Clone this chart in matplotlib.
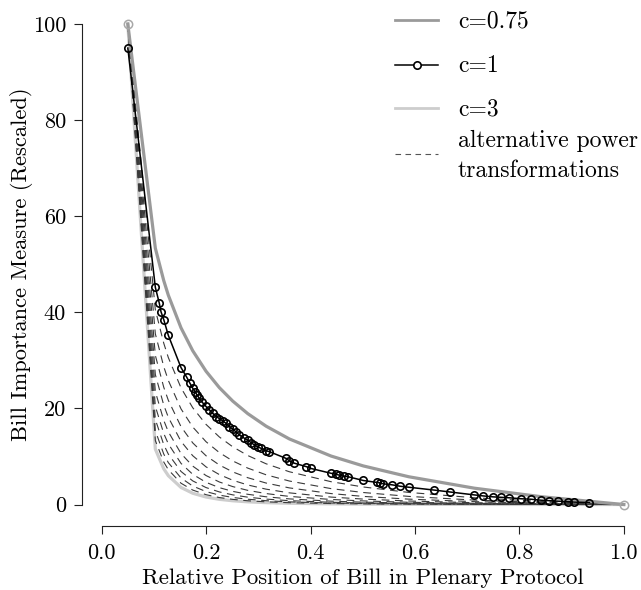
import matplotlib
matplotlib.use("Agg")
import matplotlib.pyplot as plt

plt.rcParams['font.family'] = ['cmr10', 'DejaVu Serif']
plt.rcParams['mathtext.fontset'] = 'cm'
plt.rcParams['axes.formatter.use_mathtext'] = True

# ---------------- data ----------------
# positions of bills (relative position) and the c=1 measure (circles)
bill_pos = [0.05, 0.1027, 0.1103, 0.1136, 0.1188, 0.1276, 0.1519, 0.1628, 0.1692, 0.1743,
            0.1787, 0.1826, 0.187, 0.1916, 0.1998, 0.2061, 0.2126, 0.219, 0.2253, 0.2318,
            0.2381, 0.2444, 0.251, 0.2573, 0.2636, 0.2732, 0.2797, 0.286, 0.2923, 0.2989,
            0.3052, 0.3148, 0.3211, 0.3531, 0.3594, 0.369, 0.3914, 0.401, 0.4393, 0.4489,
            0.4552, 0.4636, 0.4713, 0.5011, 0.5268, 0.5337, 0.5395, 0.5561, 0.572, 0.5881,
            0.6372, 0.6678, 0.7138, 0.7299, 0.749, 0.765, 0.7808, 0.8033, 0.8224, 0.8416,
            0.8575, 0.8736, 0.8927, 0.9054, 0.9341]
c1_vals = [95, 45.2, 41.9, 40.1, 38.5, 35.2, 28.5, 26.5, 25.2, 24.2,
           23.5, 22.8, 22.1, 21.4, 20.4, 19.7, 19.0, 18.3, 17.9, 17.4,
           16.9, 16.2, 15.7, 15.1, 14.5, 13.8, 13.4, 12.9, 12.4, 12.0,
           11.7, 11.2, 11.0, 9.6, 9.1, 8.6, 7.9, 7.5, 6.5, 6.3,
           6.1, 5.9, 5.8, 5.0, 4.6, 4.5, 4.3, 4.1, 3.8, 3.6,
           3.0, 2.6, 2.0, 1.8, 1.6, 1.5, 1.4, 1.2, 1.1, 0.9,
           0.8, 0.7, 0.6, 0.5, 0.4]

# positions at which the other transformations are drawn
grid_pos = [0.05, 0.1027, 0.1188, 0.1276, 0.1519, 0.1743, 0.1998, 0.2253, 0.251, 0.2797,
            0.3148, 0.3594, 0.4393, 0.5011, 0.5881, 0.7138, 0.8416, 1.0]
c075_vals = [100, 53.35, 46.61, 43.56, 36.77, 32.01, 27.74, 24.33, 21.52, 18.92,
             16.31, 13.65, 10.09, 8.03, 5.78, 3.40, 1.63, 0]
c3_vals = [100, 11.53, 7.44, 6.00, 3.55, 2.35, 1.56, 1.08, 0.78, 0.56,
           0.39, 0.26, 0.14, 0.09, 0.05, 0.02, 0.01, 0]
alt_c12 = [100, 40.53, 33.58, 30.58, 24.28, 20.15, 16.68, 14.06, 12.01, 10.20, 8.48, 6.82, 4.75, 3.65, 2.52, 1.41, 0.65, 0]
alt_c14 = [100, 35.53, 28.70, 25.82, 19.90, 16.14, 13.07, 10.81, 9.07, 7.58, 6.19, 4.89, 3.31, 2.50, 1.69, 0.92, 0.42, 0]
alt_c16 = [100, 31.04, 24.41, 21.69, 16.20, 12.83, 10.15, 8.23, 6.79, 5.58, 4.47, 3.46, 2.28, 1.69, 1.12, 0.60, 0.27, 0]
alt_c18 = [100, 27.04, 20.70, 18.15, 13.14, 10.16, 7.84, 6.23, 5.05, 4.07, 3.20, 2.43, 1.55, 1.13, 0.73, 0.38, 0.17, 0]
alt_c20 = [100, 23.51, 17.51, 15.14, 10.61, 8.00, 6.03, 4.69, 3.73, 2.95, 2.28, 1.69, 1.05, 0.75, 0.47, 0.24, 0.10, 0]
alt_c22 = [100, 20.43, 14.79, 12.62, 8.56, 6.29, 4.62, 3.51, 2.74, 2.13, 1.61, 1.17, 0.70, 0.49, 0.30, 0.15, 0.06, 0]
alt_c24 = [100, 17.71, 12.47, 10.49, 6.88, 4.92, 3.53, 2.62, 2.01, 1.53, 1.13, 0.80, 0.47, 0.32, 0.19, 0.09, 0.04, 0]
alt_c26 = [100, 15.35, 10.51, 8.72, 5.52, 3.85, 2.69, 1.96, 1.47, 1.10, 0.80, 0.55, 0.31, 0.21, 0.12, 0.06, 0.02, 0]
alt_c28 = [100, 13.31, 8.85, 7.24, 4.43, 3.01, 2.05, 1.45, 1.07, 0.78, 0.56, 0.38, 0.21, 0.13, 0.08, 0.04, 0.01, 0]
alt_series = [alt_c12, alt_c14, alt_c16, alt_c18, alt_c20, alt_c22, alt_c24, alt_c26, alt_c28]

anchor_x = [0.05, 1.0]
anchor_y = [100, 0]

x_ticks = [0.0, 0.2, 0.4, 0.6, 0.8, 1.0]
x_ticklabels = ["0.0", "0.2", "0.4", "0.6", "0.8", "1.0"]
y_ticks = [0, 20, 40, 60, 80, 100]
y_ticklabels = ["0", "20", "40", "60", "80", "100"]

legend_labels = ["c=0.75", "c=1", "c=3", "alternative power", "transformations"]
xlabel = "Relative Position of Bill in Plenary Protocol"
ylabel = "Bill Importance Measure (Rescaled)"

# ---------------- figure ----------------
W, H = 641, 590
fig = plt.figure(figsize=(W / 100, H / 100), dpi=100)

# pixel geometry: x=0 -> 101.7 px, x=1 -> 623.7 px ; y=0 -> 504.5 px, y=100 -> 24 px
x0_px, x1_px = 82.4, 641.0
y_bot_px, y_top_px = 526.0, 4.8
ax = fig.add_axes([x0_px / W, (H - y_bot_px) / H, (x1_px - x0_px) / W, (y_bot_px - y_top_px) / H])
ax.set_xlim(-0.037, 1.033)
ax.set_ylim(-4.47, 104.0)

col075 = '#9a9a9a'
col3 = '#cdcdcd'
coldash = '#3a3a3a'

ax.plot(grid_pos, c3_vals, color=col3, lw=2.3, solid_joinstyle='round', zorder=2)
for s in alt_series:
    ax.plot(grid_pos, s, color=coldash, lw=0.8, dashes=(7, 5), zorder=3)
ax.plot(grid_pos, c075_vals, color=col075, lw=2.3, solid_joinstyle='round', zorder=4)
ax.plot(bill_pos, c1_vals, color='black', lw=1.1, marker='o', ms=5.3, mfc='none',
        mec='black', mew=1.2, zorder=5)
ax.plot(anchor_x, anchor_y, ls='none', marker='o', ms=6.0, mfc='none', mec='#a8a8a8',
        mew=1.1, zorder=6, clip_on=False)

for sp in ['top', 'right']:
    ax.spines[sp].set_visible(False)
ax.spines['left'].set_bounds(0, 100)
ax.spines['bottom'].set_bounds(0, 1)
for sp in ['left', 'bottom']:
    ax.spines[sp].set_linewidth(0.8)
    ax.spines[sp].set_color('#222222')

ax.set_xticks(x_ticks)
ax.set_xticklabels(x_ticklabels)
ax.set_yticks(y_ticks)
ax.set_yticklabels(y_ticklabels)
ax.tick_params(axis='both', direction='out', length=5.8, width=0.8, color='#222222',
               labelsize=16, pad=6)
ax.tick_params(axis='x', pad=7)

fig.text(362.7 / W, 1 - 578 / H, xlabel, ha='center', va='center', fontsize=16.4)
fig.text(22 / W, 1 - 264 / H, ylabel, ha='center', va='center', fontsize=16.2, rotation=90)

# ---------------- legend ----------------
lax = fig.add_axes([0, 0, 1, 1])
lax.set_xlim(0, W)
lax.set_ylim(H, 0)
lax.axis('off')
lx0, lx1, tx = 395, 438, 458
rows = [20, 65, 108]
lax.plot([lx0, lx1], [rows[0], rows[0]], color=col075, lw=2.0)
lax.plot([lx0, lx1], [rows[1], rows[1]], color='black', lw=1.1)
lax.plot([(lx0 + lx1) / 2], [rows[1]], marker='o', ms=5.3, mfc='white', mec='black', mew=1.2)
lax.plot([lx0, lx1], [rows[2], rows[2]], color=col3, lw=2.0)
lax.plot([lx0, lx1], [154, 154], color='#555555', lw=0.8, dashes=(5, 4))
for r, lab in zip(rows, legend_labels[:3]):
    lax.text(tx, r + 1, lab, ha='left', va='center', fontsize=17.0)
lax.text(tx, 141, legend_labels[3], ha='left', va='center', fontsize=17.0)
lax.text(tx, 171, legend_labels[4], ha='left', va='center', fontsize=17.0)

fig.savefig('out.png', dpi=100)
